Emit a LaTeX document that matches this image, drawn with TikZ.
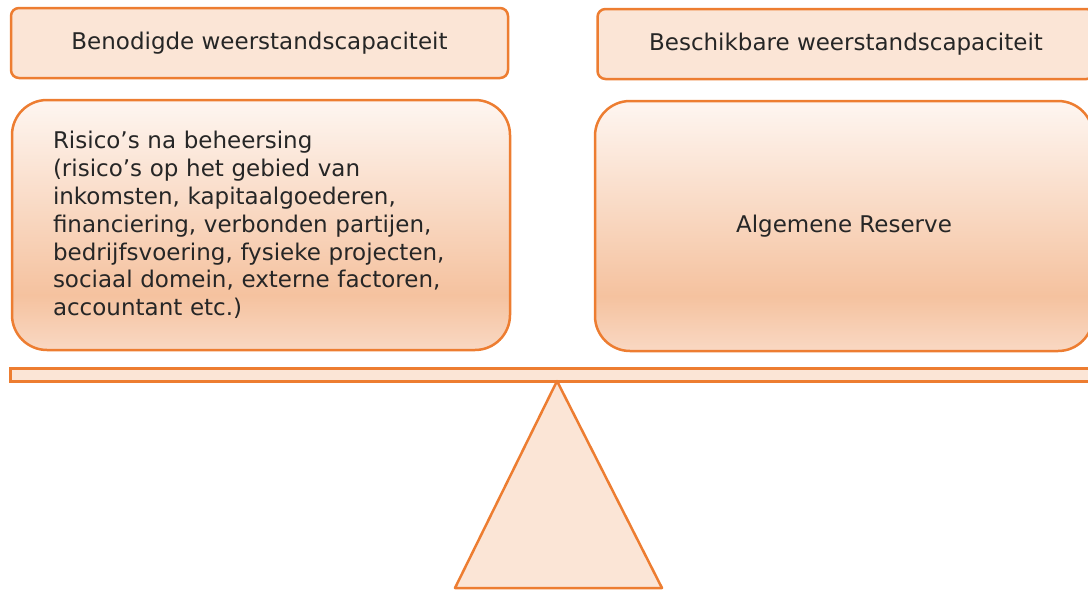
\documentclass[tikz,border=0pt]{standalone}
\usepackage{fontspec}
\setmainfont{DejaVu Sans}
\usepackage{tikz}

\definecolor{balorange}{HTML}{ED7D31}
\definecolor{balpeach}{HTML}{FBE5D6}
\definecolor{baltop}{HTML}{FEF6F1}
\definecolor{baldark}{HTML}{F5C29F}
\definecolor{ballow}{HTML}{F9D8C3}
\definecolor{baltext}{HTML}{262626}
\pgfdeclareverticalshading{balfade}{100bp}{color(0bp)=(ballow); color(25bp)=(ballow);
  color(36bp)=(baldark); color(75bp)=(baltop); color(100bp)=(baltop)}

\begin{document}
\begin{tikzpicture}[x=1pt,y=-1pt,line width=2.5pt,text=baltext,
                    font=\fontsize{23}{27.8}\selectfont,
                    head/.style={draw=balorange,fill=balpeach,rounded corners=8pt,
                                 minimum width=497pt,minimum height=70pt,inner sep=0pt},
                    pan/.style={draw=balorange,shading=balfade,rounded corners=35pt,
                                minimum width=498pt,minimum height=250pt,inner sep=0pt}]
  \useasboundingbox (0,0) rectangle (1088,590);

  \node[head]       (BN) at (259.5,43) {Benodigde weerstandscapaciteit};
  \node[head]       (BS) at (846,44)   {Beschikbare weerstandscapaciteit};
  \node[pan,align=left,text width=416pt,inner xsep=41pt]
                    (RI) at (261,225)  {Risico’s na beheersing\\
                                        (risico’s op het gebied van\\
                                        inkomsten, kapitaalgoederen,\\
                                        financiering, verbonden partijen,\\
                                        bedrijfsvoering, fysieke projecten,\\
                                        sociaal domein, externe factoren,\\
                                        accountant etc.)};
  \node[pan]        (AR) at (844,226)  {Algemene Reserve};

  % beam and pivot
  \node[draw=balorange,fill=balpeach,minimum width=1086pt,minimum height=13pt,
        inner sep=0pt,line width=3pt] (BM) at (553,374.5) {};
  \filldraw[draw=balorange,fill=balpeach,line join=round]
    (557,381) -- (455,588) -- (662,588) -- cycle;
\end{tikzpicture}
\end{document}
